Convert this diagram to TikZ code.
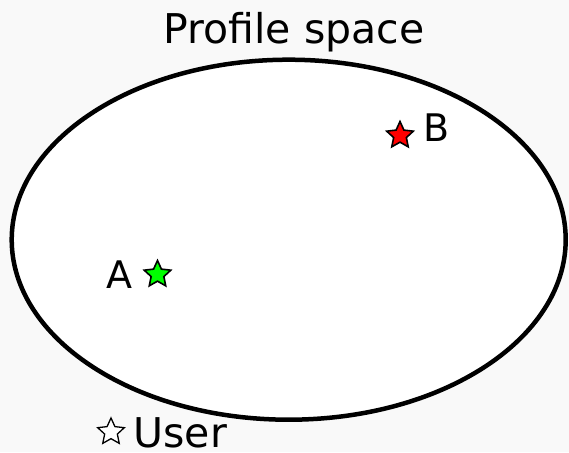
\documentclass[tikz,border=0pt]{standalone}
\usepackage{fontspec}
\setmainfont{DejaVu Sans}
\usetikzlibrary{shapes.geometric}
\definecolor{pagebg}{RGB}{249,249,249}
\definecolor{starred}{RGB}{255,0,0}
\definecolor{stargreen}{RGB}{0,255,0}
\tikzset{
  bigtext/.style={inner sep=0pt, font=\fontsize{41}{49}\selectfont},
  ptlabel/.style={inner sep=0pt, font=\fontsize{38}{46}\selectfont},
  profilestar/.style={star, star points=5, star point ratio=2.1, draw=black,
    line width=1.6pt, minimum size=28pt, inner sep=0pt},
  region/.style={ellipse, draw=black, fill=white, line width=4.5pt, inner sep=0pt}
}
\begin{document}
\begin{tikzpicture}[x=1pt, y=-1pt]
  % page and background
  \fill[pagebg] (0,0) rectangle (569,452);
  \useasboundingbox (0,0) rectangle (569,452);

  % the profile space
  \node[region, minimum width=554pt, minimum height=360pt] (space) at (288.7,239.7) {};
  \node[bigtext, anchor=base] (title) at (294,43.3) {Profile space};

  % profiles A and B
  \node[profilestar, fill=starred] (starB) at (400,135.5) {};
  \node[ptlabel, anchor=base west] (labelB) at (423,141.7) {B};
  \node[profilestar, fill=stargreen] (starA) at (157.5,274.5) {};
  \node[ptlabel, anchor=base west] (labelA) at (106.4,288.3) {A};

  % the user
  \node[profilestar, fill=white, line width=1.3pt] (starU) at (111,432) {};
  \node[bigtext, anchor=base west] (labelU) at (133.4,447.5) {User};
\end{tikzpicture}
\end{document}
